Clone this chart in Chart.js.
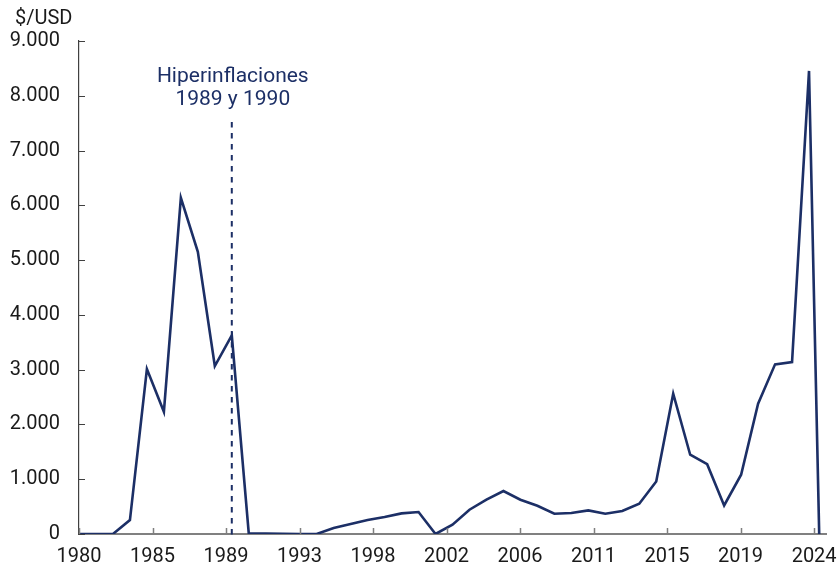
<!DOCTYPE html>
<html>
<head>
<meta charset="utf-8">
<script src="https://cdn.jsdelivr.net/npm/chart.js@4.4.1/dist/chart.umd.min.js"></script>
<style>
html,body{margin:0;padding:0;background:#ffffff;}
#wrap{width:838px;height:569px;}
</style>
</head>
<body>
<div id="wrap"><canvas id="c" width="838" height="569"></canvas></div>
<script>
// ---- Data ----
const years = [1980,1981,1982,1983,1984,1985,1986,1987,1988,1989,
               1990,1991,1992,1993,1994,1995,1996,1997,1998,1999,
               2000,2001,2002,2003,2004,2005,2006,2007,2008,2009,
               2010,2011,2012,2013,2014,2015,2016,2017,2018,2019,
               2020,2021,2022,2023,2023.6];
const values = [0,0,0,255,3010,2232,6137,5151,3066,3626,
                10,8,4,0,0,110,182,255,310,376,
                401,0,170,443,626,785,626,516,370,383,
                431,370,420,553,960,2560,1447,1274,522,1082,
                2378,3097,3139,8454,0];
const xTickLabels = ['1980','1985','1989','1993','1998','2002','2006','2011','2015','2019','2024'];
const xTickStart = 1980;
const xTickStep = 4.33;
const yTickValues = [0,1000,2000,3000,4000,5000,6000,7000,8000,9000];
const unitLabel = '$/USD';
const annotationYear = 1989;
const annotationLines = ['Hiperinflaciones', '1989 y 1990'];
const annotationTextValues = [8255, 7840];
const annotationLineTop = 7520;

const NAVY = '#1c2f66';
const FONT = 'Roboto, "Liberation Sans", sans-serif';

function fmtThousands(v) {
  return String(Math.round(v)).replace(/\B(?=(\d{3})+(?!\d))/g, '.');
}

const decorations = {
  id: 'decorations',
  afterDraw(chart) {
    const {ctx, chartArea, scales} = chart;
    const x = scales.x, y = scales.y;
    ctx.save();
    // unit label
    ctx.fillStyle = '#1a1a1a';
    ctx.font = '20px ' + FONT;
    ctx.textAlign = 'left';
    ctx.textBaseline = 'middle';
    ctx.fillText(unitLabel, 15, 19);
    // inward y ticks
    ctx.strokeStyle = '#404040';
    ctx.lineWidth = 1;
    y.ticks.forEach(t => {
      const py = Math.round(y.getPixelForValue(t.value)) + 0.5;
      ctx.beginPath();
      ctx.moveTo(chartArea.left, py);
      ctx.lineTo(chartArea.left + 6, py);
      ctx.stroke();
    });
    // inward x ticks
    ctx.strokeStyle = '#7f7f7f';
    ctx.lineWidth = 1.5;
    x.ticks.forEach(t => {
      const px = Math.round(x.getPixelForValue(t.value)) + 0.5;
      ctx.beginPath();
      ctx.moveTo(px, chartArea.bottom);
      ctx.lineTo(px, chartArea.bottom - 6);
      ctx.stroke();
    });
    // dashed marker line
    const ax = x.getPixelForValue(annotationYear);
    ctx.strokeStyle = NAVY;
    ctx.lineWidth = 2;
    ctx.setLineDash([5.5, 5.5]);
    ctx.beginPath();
    ctx.moveTo(ax, y.getPixelForValue(annotationLineTop));
    ctx.lineTo(ax, chartArea.bottom + 3);
    ctx.stroke();
    ctx.setLineDash([]);
    // annotation text
    ctx.fillStyle = NAVY;
    ctx.font = '21px ' + FONT;
    ctx.textAlign = 'center';
    ctx.textBaseline = 'alphabetic';
    annotationLines.forEach((s, i) => {
      ctx.fillText(s, ax + 1, y.getPixelForValue(annotationTextValues[i]));
    });
    ctx.restore();
  }
};

new Chart(document.getElementById('c'), {
  type: 'line',
  data: {
    datasets: [{
      data: years.map((yr, i) => ({x: yr, y: values[i]})),
      borderColor: NAVY,
      borderWidth: 2.6,
      pointRadius: 0,
      tension: 0,
      fill: false
    }]
  },
  options: {
    responsive: false,
    animation: false,
    layout: {padding: {left: 0, right: 12, top: 41, bottom: 0}},
    plugins: {
      legend: {display: false},
      tooltip: {enabled: false},
      title: {display: false}
    },
    scales: {
      x: {
        type: 'linear',
        min: 1980,
        max: 2024,
        afterBuildTicks: s => {
          s.ticks = xTickLabels.map((_, i) => ({value: xTickStart + i * xTickStep}));
        },
        afterFit: s => { s.height = 35; s.paddingLeft = 0; s.paddingRight = 0; },
        grid: {display: true, drawOnChartArea: false, drawTicks: false},
        border: {display: true, color: '#808080', width: 2},
        ticks: {
          autoSkip: false,
          maxRotation: 0,
          padding: 11,
          color: '#1a1a1a',
          font: {family: FONT, size: 20},
          callback: (v, i) => xTickLabels[i]
        }
      },
      y: {
        min: 0,
        max: 9000,
        afterBuildTicks: s => { s.ticks = yTickValues.map(v => ({value: v})); },
        afterFit: s => { s.width = 79; s.paddingTop = 0; s.paddingBottom = 0; },
        grid: {display: true, drawOnChartArea: false, drawTicks: false},
        border: {display: true, color: '#404040', width: 1.2},
        ticks: {
          padding: 19,
          color: '#1a1a1a',
          font: {family: FONT, size: 20},
          callback: v => fmtThousands(v)
        }
      }
    }
  },
  plugins: [decorations]
});
</script>
</body>
</html>
